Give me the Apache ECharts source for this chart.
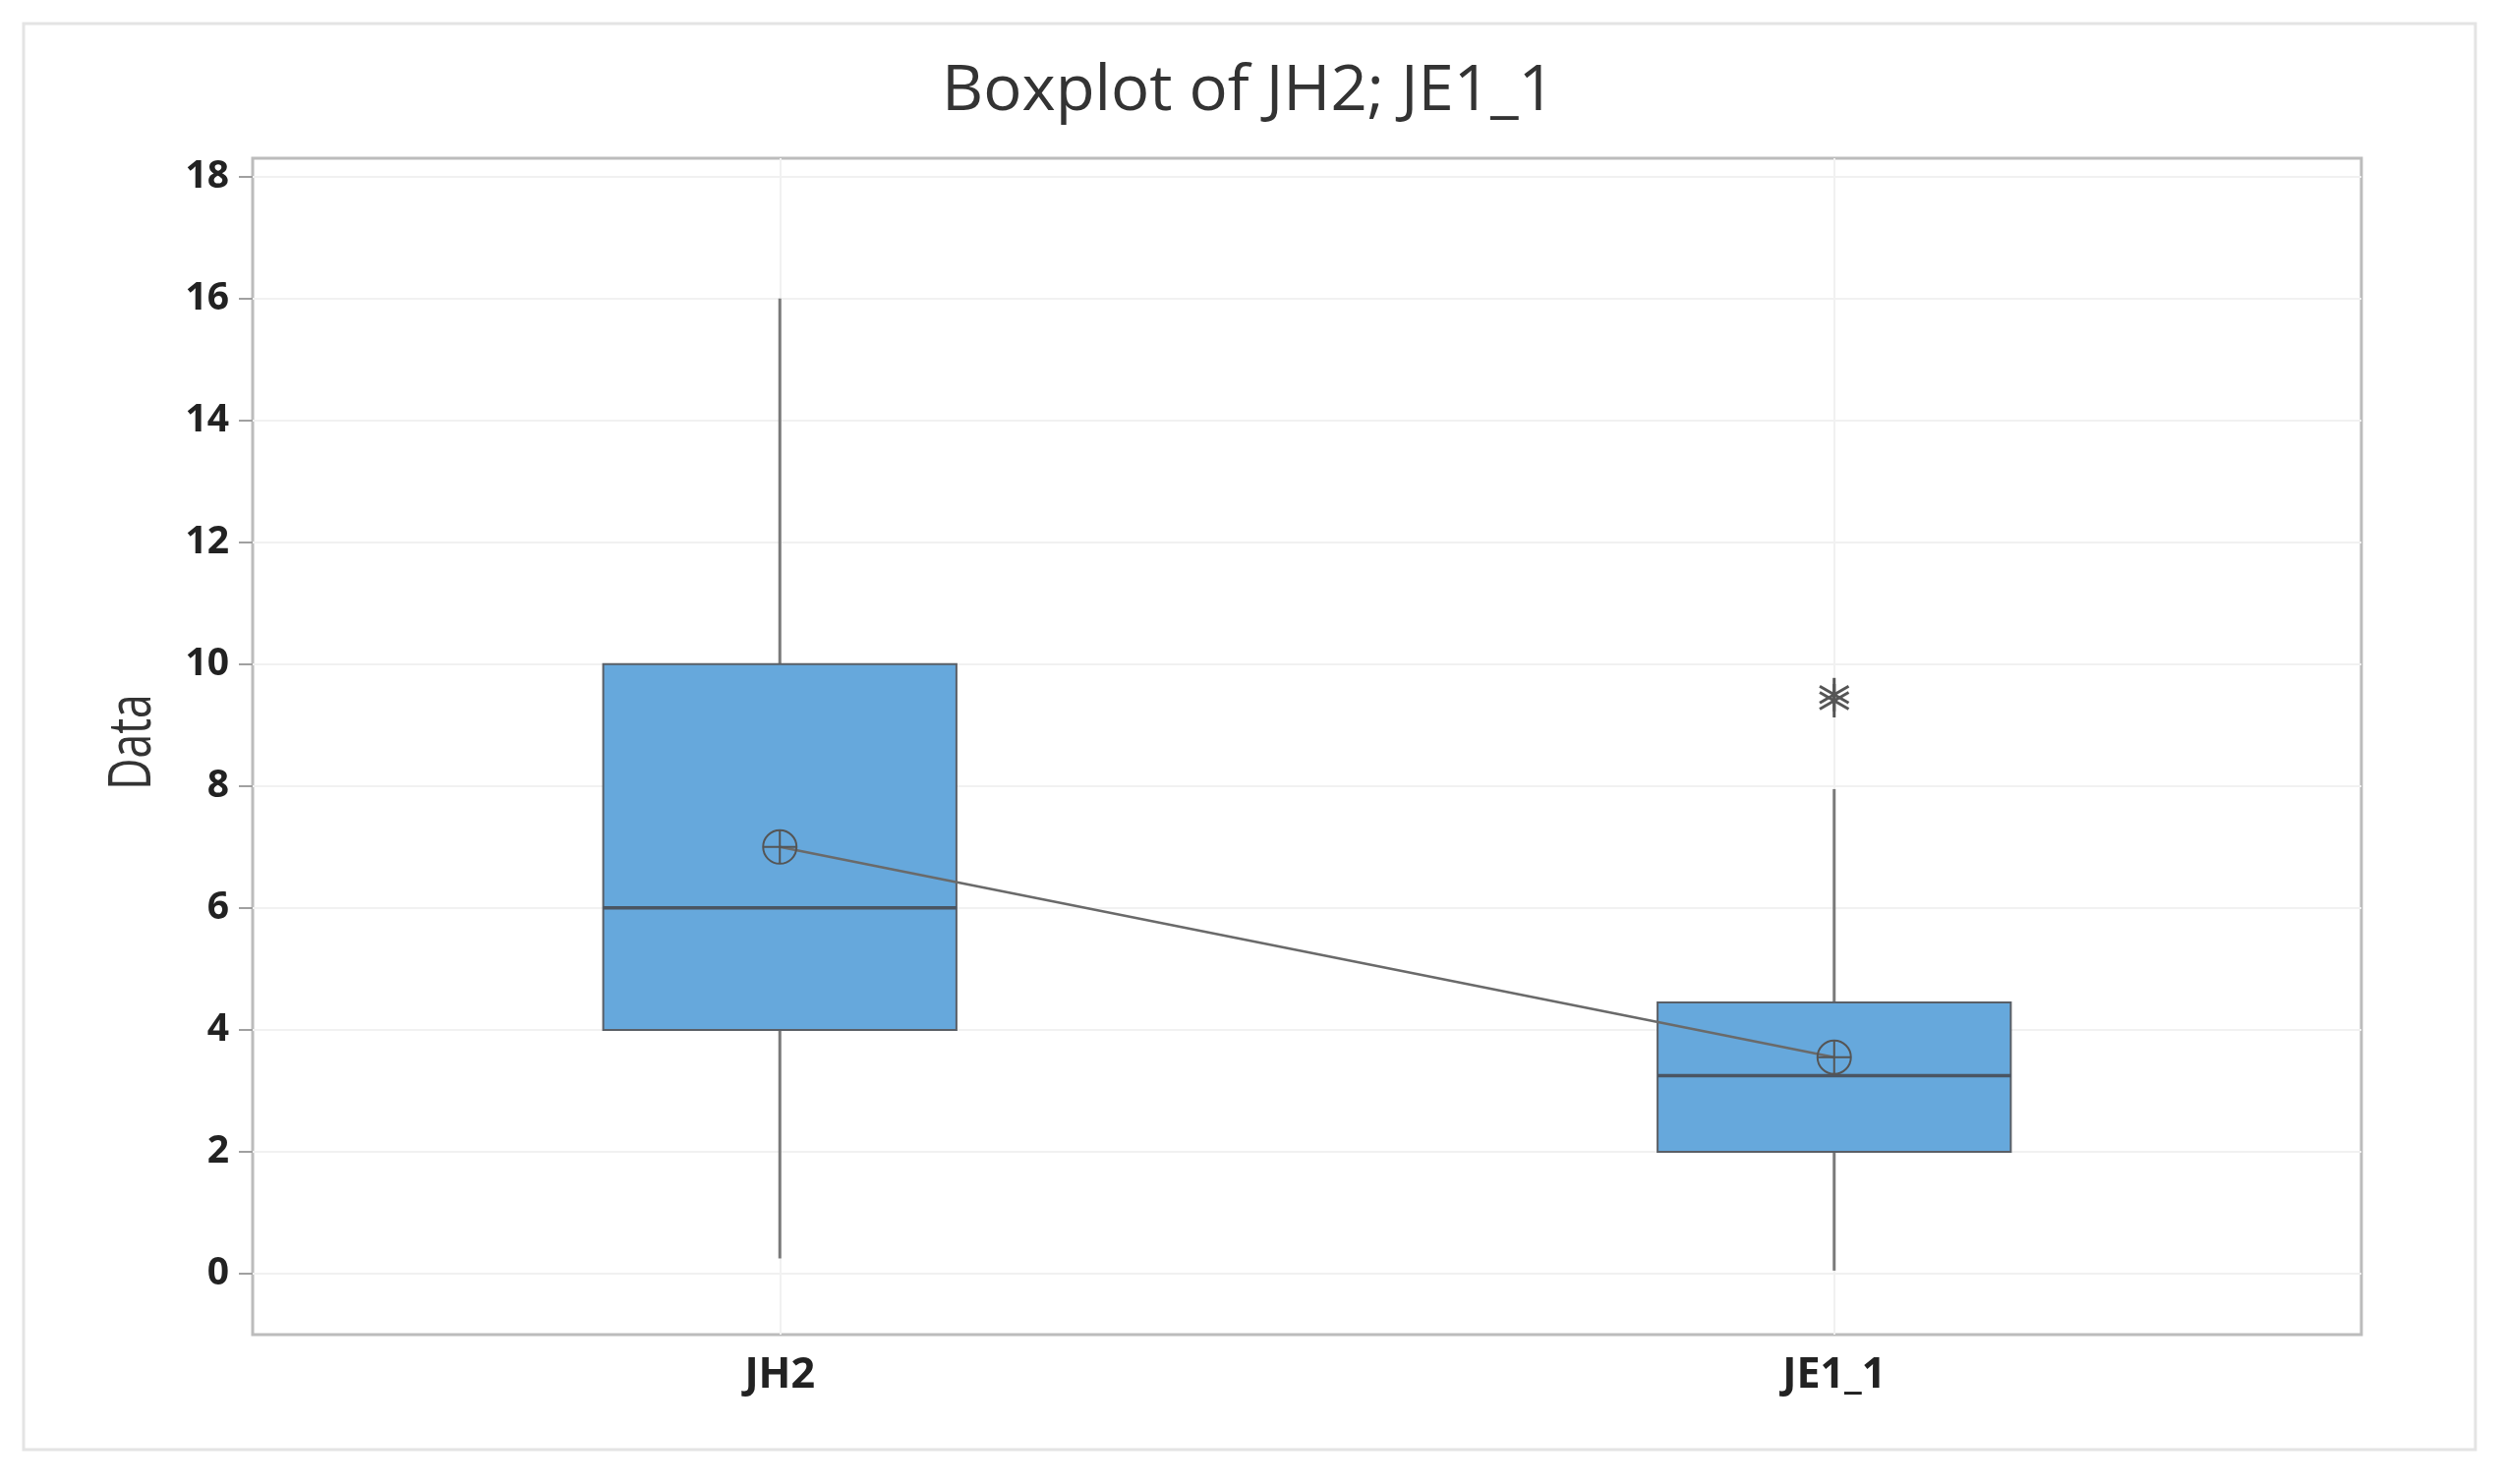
<!DOCTYPE html>
<html>
<head>
<meta charset="utf-8">
<script src="https://cdn.jsdelivr.net/npm/echarts@6/dist/echarts.min.js"></script>
<style>html,body{margin:0;padding:0;background:#fff;}#c{width:2542px;height:1510px;}</style>
</head>
<body>
<div id="c"></div>
<script>
const categories = ['JH2', 'JE1_1'];
const whiskerLow = [0.25, 0.05];
const q1 = [4.0, 2.0];
const median = [6.0, 3.25];
const q3 = [10.0, 4.45];
const whiskerHigh = [16.0, 7.95];
const means = [7.0, 3.55];
const outlierCat = ['JE1_1', 'JE1_1'];
const outlierVal = [9.4, 9.5];
const yTicks = [0, 2, 4, 6, 8, 10, 12, 14, 16, 18];

const boxData = categories.map((c, i) => [i, whiskerLow[i], q1[i], median[i], q3[i], whiskerHigh[i]]);
const meanData = categories.map((c, i) => [i, means[i]]);
const outlierData = outlierVal.map((v, i) => [categories.indexOf(outlierCat[i]), v]);

const chart = echarts.init(document.getElementById('c'), null, {renderer: 'canvas'});
const option = {
  backgroundColor: '#ffffff',
  animation: false,
  graphic: [
    {type: 'rect', shape: {x: 24, y: 24, width: 2494, height: 1451}, style: {fill: 'none', stroke: '#e4e4e4', lineWidth: 3}, z: -10, silent: true},
    {type: 'text', x: 1270, y: 94, scaleX: 1.02, style: {text: 'Boxplot of JH2; JE1_1', font: '400 64px "Open Sans"', fill: '#333333', textAlign: 'center', textVerticalAlign: 'middle'}},
    {type: 'text', x: 136, y: 755, rotation: Math.PI / 2, scaleX: 0.74, style: {text: 'Data', font: '400 60px "Open Sans"', fill: '#333333', textAlign: 'center', textVerticalAlign: 'middle'}}
  ],
  grid: {left: 257, right: 140, top: 161, bottom: 152, show: true, borderColor: '#bcbcbc', borderWidth: 3, backgroundColor: '#ffffff'},
  xAxis: {
    type: 'category', data: categories, boundaryGap: true,
    axisLine: {show: false},
    axisTick: {show: true, alignWithLabel: true, length: 10, lineStyle: {color: '#a0a0a0', width: 2}},
    axisLabel: {margin: 20, fontFamily: 'Open Sans', fontWeight: 'bold', fontSize: 43, color: '#222222'},
    splitLine: {show: false}
  },
  yAxis: {
    type: 'value', min: -1, max: 18.3, splitNumber: 10,
    axisLine: {show: false},
    axisTick: {show: true, length: 14, customValues: yTicks, lineStyle: {color: '#a0a0a0', width: 2}},
    axisLabel: {margin: 24, customValues: yTicks, fontFamily: 'Open Sans', fontWeight: 'bold', fontSize: 39, color: '#222222'},
    splitLine: {show: true, lineStyle: {color: '#f1f1f1', width: 2}}
  },
  series: [
    {
      type: 'line', data: [], z: 1,
      markLine: {silent: true, symbol: 'none', z: 1, label: {show: false}, lineStyle: {color: '#f1f1f1', width: 2, type: 'solid'},
        data: categories.map(c => ({xAxis: c}))}
    },
    {
      type: 'custom', z: 3, clip: false,
      encode: {x: 0, y: [1, 2, 3, 4, 5]},
      data: boxData,
      renderItem: function (params, api) {
        const i = api.value(0);
        const bw = api.size([1, 0])[0] * 0.335;
        const pLow = api.coord([i, api.value(1)]);
        const pQ1 = api.coord([i, api.value(2)]);
        const pMed = api.coord([i, api.value(3)]);
        const pQ3 = api.coord([i, api.value(4)]);
        const pHigh = api.coord([i, api.value(5)]);
        const x = pMed[0];
        const wStyle = {stroke: '#7a7a7a', lineWidth: 3};
        return {
          type: 'group',
          children: [
            {type: 'line', shape: {x1: x, y1: pQ3[1], x2: x, y2: pHigh[1]}, style: wStyle},
            {type: 'line', shape: {x1: x, y1: pQ1[1], x2: x, y2: pLow[1]}, style: wStyle},
            {type: 'rect', shape: {x: x - bw / 2, y: pQ3[1], width: bw, height: pQ1[1] - pQ3[1]}, style: {fill: '#66a8dc', stroke: '#5a5f66', lineWidth: 2}},
            {type: 'line', shape: {x1: x - bw / 2, y1: pMed[1], x2: x + bw / 2, y2: pMed[1]}, style: {stroke: '#4a5562', lineWidth: 3.5}}
          ]
        };
      }
    },
    {
      type: 'line', data: meanData, z: 4, symbol: 'none',
      lineStyle: {color: '#6a6a6a', width: 2.5}
    },
    {
      type: 'custom', z: 5, clip: false,
      encode: {x: 0, y: 1},
      data: meanData,
      renderItem: function (params, api) {
        const p = api.coord([api.value(0), api.value(1)]);
        const r = 17;
        const st = {stroke: '#555555', lineWidth: 2, fill: 'none'};
        return {
          type: 'group',
          children: [
            {type: 'circle', shape: {cx: p[0], cy: p[1], r: r}, style: st},
            {type: 'line', shape: {x1: p[0] - r, y1: p[1], x2: p[0] + r, y2: p[1]}, style: st},
            {type: 'line', shape: {x1: p[0], y1: p[1] - r, x2: p[0], y2: p[1] + r}, style: st}
          ]
        };
      }
    },
    {
      type: 'custom', z: 5, clip: false,
      encode: {x: 0, y: 1},
      data: outlierData,
      renderItem: function (params, api) {
        const p = api.coord([api.value(0), api.value(1)]);
        const r = 17;
        const dx = r * Math.cos(Math.PI / 6), dy = r * Math.sin(Math.PI / 6);
        const st = {stroke: '#555555', lineWidth: 3};
        return {
          type: 'group',
          children: [
            {type: 'line', shape: {x1: p[0], y1: p[1] - r, x2: p[0], y2: p[1] + r}, style: st},
            {type: 'line', shape: {x1: p[0] - dx, y1: p[1] - dy, x2: p[0] + dx, y2: p[1] + dy}, style: st},
            {type: 'line', shape: {x1: p[0] - dx, y1: p[1] + dy, x2: p[0] + dx, y2: p[1] - dy}, style: st}
          ]
        };
      }
    }
  ]
};
chart.setOption(option);
</script>
</body>
</html>
